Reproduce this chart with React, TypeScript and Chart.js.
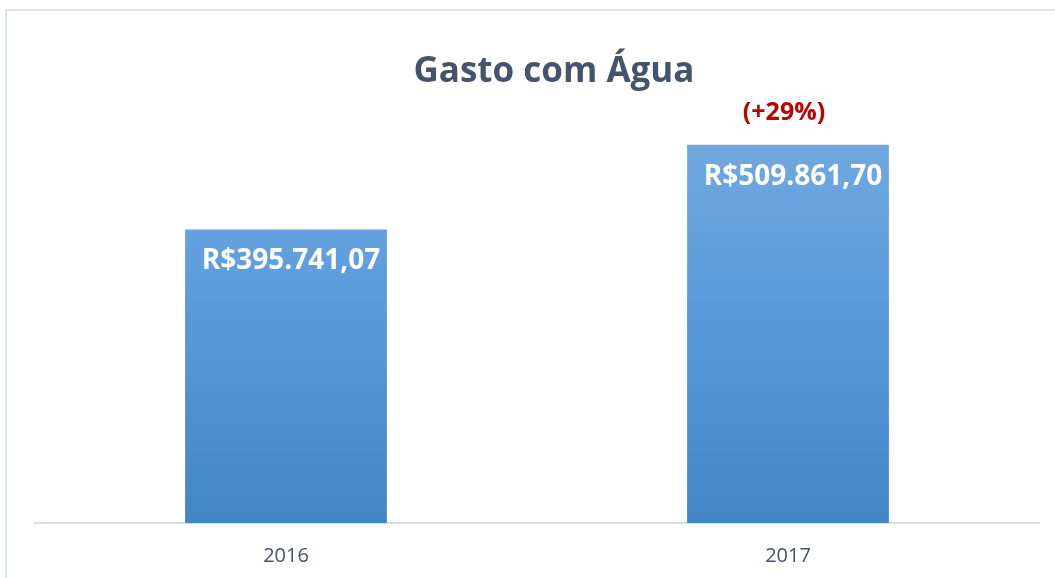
import React, { useEffect, useRef } from "react";
import { Chart, registerables } from "chart.js";

Chart.register(...registerables);

const categories = ["2016", "2017"];
const values = [395741.07, 509861.7];
const changeLabels = ["", "(+29%)"];
const titleText = "Gasto com Água";
const yMax = 600000;

const fmt = (v: number) =>
  "R$" +
  v.toLocaleString("pt-BR", { minimumFractionDigits: 2, maximumFractionDigits: 2 });

const FONT = "'Open Sans', 'Noto Sans', sans-serif";

const labelPlugin = {
  id: "labelPlugin",
  afterDatasetsDraw(chart: any) {
    const ctx = chart.ctx;
    const meta = chart.getDatasetMeta(0);
    ctx.save();
    ctx.textAlign = "center";
    ctx.textBaseline = "middle";
    meta.data.forEach((bar: any, i: number) => {
      ctx.fillStyle = "#FFFFFF";
      ctx.font = `bold 28px ${FONT}`;
      ctx.fillText(fmt(values[i]), bar.x + 5, bar.y + 32);
      if (changeLabels[i]) {
        ctx.fillStyle = "#C00000";
        ctx.font = `bold 25px ${FONT}`;
        ctx.fillText(changeLabels[i], bar.x - 4, bar.y - 32);
      }
    });
    // title
    ctx.fillStyle = "#44546A";
    ctx.font = `bold 35px ${FONT}`;
    ctx.fillText(titleText, 554, 72);
    ctx.restore();
  },
};

export default function App() {
  const ref = useRef<HTMLCanvasElement | null>(null);
  useEffect(() => {
    document.body.style.margin = "0";
    const canvas = ref.current!;
    const chart = new Chart(canvas, {
      type: "bar",
      data: {
        labels: categories,
        datasets: [
          {
            data: values,
            backgroundColor: (c: any) => {
              const area = c.chart.chartArea;
              if (!area) return "#5B9BD5";
              const g = c.chart.ctx.createLinearGradient(0, area.top, 0, area.bottom);
              g.addColorStop(0, "#7AAEE0");
              g.addColorStop(0.5, "#5B9BDC");
              g.addColorStop(1, "#4286C7");
              return g;
            },
            categoryPercentage: 1,
            barPercentage: 0.402,
            borderWidth: 0,
          },
        ],
      },
      options: {
        animation: false,
        responsive: false,
        layout: { padding: { left: 35, right: 16, top: 78, bottom: 0 } },
        plugins: {
          legend: { display: false },
          title: { display: false },
          tooltip: { enabled: false },
        },
        scales: {
          x: {
            grid: { display: false },
            border: { display: true, color: "#D9DEE6", width: 2 },
            ticks: {
              color: "#44546A",
              font: { family: FONT, size: 20 },
              padding: 13,
            },
            afterFit: (scale: any) => {
              scale.height = 55;
            },
          },
          y: {
            display: false,
            min: 0,
            max: yMax,
          },
        },
      },
      plugins: [labelPlugin],
    });
    return () => chart.destroy();
  }, []);
  return (
    <div style={{ position: "relative", width: 1055, height: 578, background: "#fff", overflow: "hidden" }}>
      <div
        style={{
          position: "absolute",
          left: 5,
          top: 9,
          width: 1100,
          height: 620,
          border: "2px solid #DFE3EA",
        }}
      />
      <canvas ref={ref} width={1055} height={578} style={{ position: "absolute", left: 0, top: 0 }} />
    </div>
  );
}
